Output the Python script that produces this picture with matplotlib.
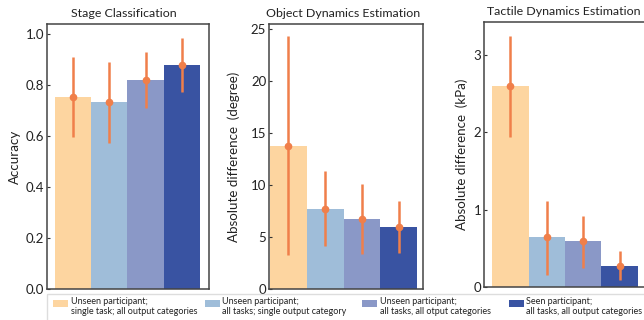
import matplotlib.pyplot as plt
from matplotlib.patches import Rectangle

plt.rcParams['font.family'] = ['Lato', 'DejaVu Sans']

# data
groups = ["Unseen participant;\nsingle task; all output categories",
          "Unseen participant;\nall tasks; single output category",
          "Unseen participant;\nall tasks, all otput categories",
          "Seen participant;\nall tasks, all output categories"]
colors = ['#FDD5A0', '#9FBDD9', '#8A98C7', '#3953A2']

titles = ["Stage Classification", "Object Dynamics Estimation", "Tactile Dynamics Estimation"]
ylabels = ["Accuracy", "Absolute difference  (degree)", "Absolute difference  (kPa)"]

stage_mean = [0.753, 0.733, 0.82, 0.878]
stage_lo = [0.596, 0.573, 0.71, 0.772]
stage_hi = [0.91, 0.89, 0.93, 0.985]

object_mean = [13.8, 7.7, 6.75, 5.98]
object_lo = [3.3, 4.1, 3.4, 3.45]
object_hi = [24.3, 11.35, 10.1, 8.5]

tactile_mean = [2.59, 0.64, 0.59, 0.27]
tactile_lo = [1.93, 0.16, 0.25, 0.09]
tactile_hi = [3.24, 1.11, 0.92, 0.46]

ylims = [(0, 1.04), (0, 25.5), (0, 3.42)]
yticks = [[0.0, 0.2, 0.4, 0.6, 0.8, 1.0], [0, 5, 10, 15, 20, 25], [0, 1, 2, 3]]
yticklabels = [["0.0", "0.2", "0.4", "0.6", "0.8", "1.0"],
               ["0", "5", "10", "15", "20", "25"], ["0", "1", "2", "3"]]
xlims = [(-0.72, 3.75), (-0.53, 3.66), (-0.72, 3.72)]

W, H = 644, 320
fig = plt.figure(figsize=(W / 100, H / 100), dpi=100)

# axes boxes in pixels: left, right, top, bottom
boxes = [(47, 209, 24, 289), (269, 423, 24, 289), (484, 646, 22, 287)]
ylab_x = [21, 240, 468]
title_x = [124, 343, 564]
data = [(stage_mean, stage_lo, stage_hi),
        (object_mean, object_lo, object_hi),
        (tactile_mean, tactile_lo, tactile_hi)]

err_color = '#F07F4A'
for k in range(3):
    l, r, t, b = boxes[k]
    ax = fig.add_axes([l / W, 1 - b / H, (r - l) / W, (b - t) / H])
    mean, lo, hi = data[k]
    x = range(4)
    ax.bar(x, mean, width=1.0, color=colors)
    yerr = [[m - a for m, a in zip(mean, lo)], [c - m for m, c in zip(mean, hi)]]
    ax.errorbar(x, mean, yerr=yerr, fmt='o', color=err_color, ms=4.5,
                elinewidth=1.8, capsize=0)
    ax.set_xlim(*xlims[k])
    ax.set_ylim(*ylims[k])
    ax.set_yticks(yticks[k])
    ax.set_yticklabels(yticklabels[k])
    ax.set_xticks([])
    ax.tick_params(axis='y', direction='in', length=2, width=0.8,
                   labelsize=9.5, pad=2, colors='#333333', labelcolor='#222222')
    for s in ax.spines.values():
        s.set_color('#444444')
        s.set_linewidth(1.1)
    ax.set_title(titles[k], fontsize=8.9, pad=5, color='#222222',
                 x=(title_x[k] - l) / (r - l))
    ax.set_ylabel(ylabels[k], fontsize=9.6, color='#222222')
    ax.yaxis.set_label_coords((ylab_x[k] - l) / (r - l), 0.5)

# legend drawn by hand along the bottom
fig.patches.append(Rectangle((47 / W, -0.05), 700 / W, (H - 294) / H + 0.05,
                             transform=fig.transFigure, facecolor='white',
                             edgecolor='#DDDDDD', lw=1.0, zorder=5))
patch_x = [53, 205, 362, 509]
text_x = [71, 222, 380, 526]
for i in range(4):
    fig.patches.append(Rectangle((patch_x[i] / W, 1 - 307 / H), 15 / W, 7 / H,
                                 transform=fig.transFigure, facecolor=colors[i],
                                 edgecolor='none', zorder=6))
    fig.text(text_x[i] / W, 1 - 297.5 / H, groups[i], fontsize=6.5, va='top',
             ha='left', color='#222222', linespacing=1.12, zorder=7)

fig.savefig('out.png', dpi=100)
